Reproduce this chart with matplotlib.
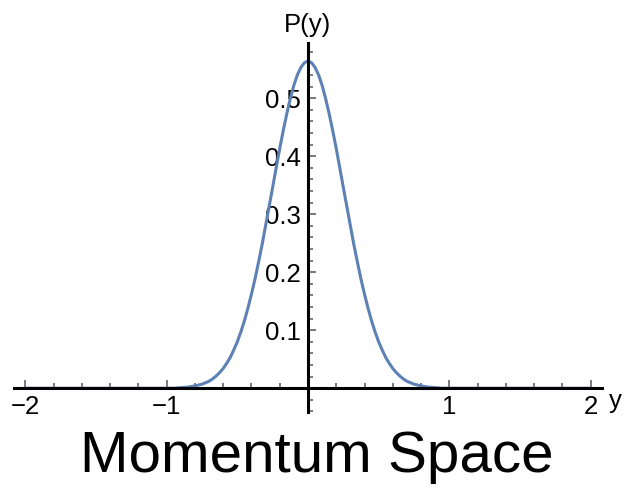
import matplotlib
matplotlib.use("Agg")
import matplotlib.pyplot as plt
import numpy as np

plt.rcParams["font.family"] = ["Liberation Sans", "DejaVu Sans"]

# curve (symmetric about y = 0)
y_half = [0.000, 0.025, 0.050, 0.075, 0.100, 0.125, 0.150, 0.175, 0.200,
          0.225, 0.250, 0.275, 0.300, 0.325, 0.350, 0.375, 0.400, 0.425,
          0.450, 0.475, 0.500, 0.525, 0.550, 0.575, 0.600, 0.625, 0.650,
          0.675, 0.700, 0.750, 0.800, 0.850, 0.900, 0.950, 1.000, 1.250,
          1.500, 1.750, 2.000]
p_half = [0.564, 0.561, 0.553, 0.540, 0.522, 0.499, 0.473, 0.444, 0.413,
          0.380, 0.346, 0.313, 0.280, 0.247, 0.217, 0.188, 0.162, 0.138,
          0.116, 0.097, 0.080, 0.066, 0.053, 0.043, 0.034, 0.027, 0.021,
          0.016, 0.012, 0.007, 0.004, 0.002, 0.001, 0.0, 0.0, 0.0,
          0.0, 0.0, 0.0]

x_major = [-2, -1, 1, 2]
y_major = [0.1, 0.2, 0.3, 0.4, 0.5]

ys = [-v for v in y_half[::-1]] + y_half[1:]
ps = p_half[::-1] + p_half[1:]

fig = plt.figure(figsize=(6.24, 4.88), dpi=100)
ax = fig.add_axes([0.0224, 0.1557, 0.9423, 0.7562])

ax.plot(ys, ps, color="#5E81B5", lw=2.2, solid_joinstyle="round")

ax.set_xlim(-2.08, 2.08)
ax.set_ylim(-0.041, 0.595)

for s in ("top", "right"):
    ax.spines[s].set_visible(False)
ax.spines["left"].set_position(("data", 0))
ax.spines["bottom"].set_position(("data", 0))
for s in ("left", "bottom"):
    ax.spines[s].set_linewidth(2.2)
    ax.spines[s].set_color("black")
    ax.spines[s].set_zorder(3)

ax.set_xticks(x_major)
ax.set_xticklabels([f"{v:g}".replace("-", "\u2212") for v in x_major])
ax.set_xticks([t for t in np.arange(-2.0, 2.01, 0.2).round(1)
               if abs(t - round(t)) > 1e-6], minor=True)
ax.set_yticks(y_major)
ax.set_yticklabels([f"{v:g}" for v in y_major])
ax.set_yticks([t for t in np.arange(-0.04, 0.59, 0.02).round(2)
               if abs(t * 10 - round(t * 10)) > 1e-6], minor=True)

ax.tick_params(which="both", direction="in", color="#7a7a7a", width=1.4,
               labelsize=18.5, labelcolor="black")
ax.tick_params(which="major", length=6, pad=5)
ax.tick_params(which="minor", length=3.5)

ax.text(2.13, -0.022, "y", fontsize=18.5, ha="left", va="center")
ax.text(0.0, 0.605, "P(y)", fontsize=18.5, ha="center", va="bottom",
        clip_on=False)

fig.text(0.507, 0.063, "Momentum Space", fontsize=42, ha="center",
         va="center")

fig.savefig("out.png", dpi=100, facecolor="white")
